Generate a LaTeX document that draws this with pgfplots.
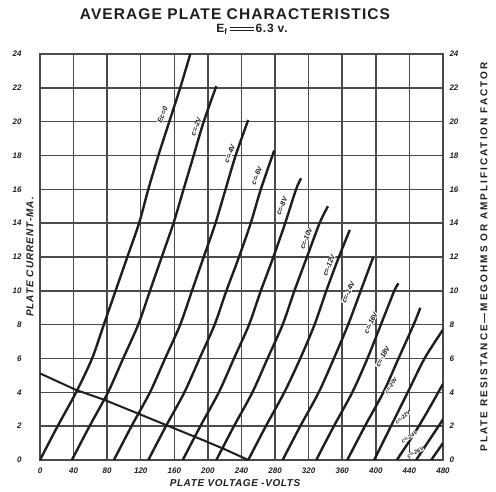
\documentclass[border=0pt]{standalone}
\usepackage{fontspec}
\setmainfont{Liberation Sans}
\usepackage{pgfplots}
\pgfplotsset{compat=1.18}

\definecolor{ink}{HTML}{1E1E1E}
\definecolor{gridc}{HTML}{4A4A4A}

% long double-bar equals sign of the heading
\newcommand\longeq{\raisebox{0.16em}{\rule{24pt}{1.2pt}}\kern-24pt\raisebox{0.44em}{\rule{24pt}{1.2pt}}}

% plate current (mA) against plate voltage (V), one table per grid voltage
\pgfplotstableread{
V I
0 0
21 2
43 4
62 6
76 8
90 10
104 12
118 14
129 16
141 18
154 20
167 22
179 24
}\ecA
\pgfplotstableread{
V I
38 0
59 2
81 4
99 6
117 8
131 10
145 12
159 14
171 16
183 18
195 20
210 22.1
}\ecB
\pgfplotstableread{
V I
88 0
109 2
131 4
149 6
167 8
181 10
195 12
209 14
221 16
233 18
248 20.1
}\ecC
\pgfplotstableread{
V I
129 0
150 2
172 4
190 6
208 8
222 10
237 12
251 14
263 16
279 18.3
}\ecD
\pgfplotstableread{
V I
170 0
191 2
213 4
231 6
249 8
263 10
278 12
292 14
305 16
311 16.65
}\ecE
\pgfplotstableread{
V I
210 0
231 2
253 4
271 6
289 8
303 10
318 12
333 14
343 15
}\ecF
\pgfplotstableread{
V I
248 0
269 2
291 4
310 6
327 8
341 10
356 12
369 13.6
}\ecG
\pgfplotstableread{
V I
289 0
310 2
332 4
350 6
367 8
382 10
397 12
}\ecH
\pgfplotstableread{
V I
329 0
350 2
372 4
390 6
406 8
422 10
427 10.44
}\ecI
\pgfplotstableread{
V I
366 0
387 2
409 4
427 6
445 8
453 9
}\ecJ
\pgfplotstableread{
V I
398 0
418 2
438 4
458 6
480 7.7
}\ecK
\pgfplotstableread{
V I
425 0
445 1.5
463 3
480 4.5
}\ecL
\pgfplotstableread{
V I
448 0
464 1.2
480 2.4
}\ecM
\pgfplotstableread{
V I
466 0
480 1.0
}\ecN
\pgfplotstableread{
V I
0 5.12
43 4.14
77 3.55
155 1.97
194 1.18
222 0.59
248 0
}\load

\begin{document}
\begin{tikzpicture}[x=1pt,y=1pt]
\useasboundingbox (-40,-31) rectangle (456,460);
\begin{axis}[
  at={(0,0)}, anchor=south west,
  scale only axis, width=403pt, height=406pt,
  xmin=0, xmax=480, ymin=0, ymax=24,
  xtick={0,40,...,480}, ytick={0,2,...,24},
  grid=major, major grid style={gridc, line width=1.5pt},
  axis line style={gridc, line width=1.7pt},
  tick style={draw=none},
  ticklabel style={font=\fontsize{8}{9}\selectfont\bfseries\itshape, text=ink},
  /pgf/number format/assume math mode=true,
  xticklabel style={yshift=-4pt},
  yticklabel style={xshift=-15pt},
  xlabel={PLATE VOLTAGE -VOLTS},
  xlabel style={at={(axis description cs:0.484,0)}, anchor=center, yshift=-23pt,
    font=\fontsize{10}{12}\selectfont\bfseries\itshape\addfontfeature{LetterSpace=6}, text=ink},
  ylabel={PLATE CURRENT-MA.},
  ylabel style={at={(axis description cs:-0.025,0.5)}, anchor=center,
    font=\fontsize{10}{12}\selectfont\bfseries\itshape\addfontfeature{LetterSpace=10}, text=ink},
]
\addplot[smooth, ink, line width=2.4pt] table[x=V,y=I] {\ecA};
\addplot[smooth, ink, line width=2.4pt] table[x=V,y=I] {\ecB};
\addplot[smooth, ink, line width=2.4pt] table[x=V,y=I] {\ecC};
\addplot[smooth, ink, line width=2.4pt] table[x=V,y=I] {\ecD};
\addplot[smooth, ink, line width=2.4pt] table[x=V,y=I] {\ecE};
\addplot[smooth, ink, line width=2.4pt] table[x=V,y=I] {\ecF};
\addplot[smooth, ink, line width=2.4pt] table[x=V,y=I] {\ecG};
\addplot[smooth, ink, line width=2.4pt] table[x=V,y=I] {\ecH};
\addplot[smooth, ink, line width=2.4pt] table[x=V,y=I] {\ecI};
\addplot[smooth, ink, line width=2.4pt] table[x=V,y=I] {\ecJ};
\addplot[smooth, ink, line width=2.4pt] table[x=V,y=I] {\ecK};
\addplot[smooth, ink, line width=2.4pt] table[x=V,y=I] {\ecL};
\addplot[smooth, ink, line width=2.4pt] table[x=V,y=I] {\ecM};
\addplot[smooth, ink, line width=2.4pt] table[x=V,y=I] {\ecN};
\addplot[sharp plot, ink, line width=2pt] table[x=V,y=I] {\load};

% curve labels
\begin{scope}[every node/.style={font=\fontsize{7}{8}\selectfont\bfseries\itshape, text=ink, fill=white, inner sep=0.3pt}]
\node[rotate=68] at (axis cs:146,20.4) {Ec=0};
\node[rotate=68] at (axis cs:186,19.7) {c=-2V};
\node[rotate=68] at (axis cs:226,18.1) {c=-4V};
\node[rotate=68] at (axis cs:258,16.8) {c=-6V};
\node[rotate=68] at (axis cs:288,15.0) {c=-8V};
\node[rotate=68] at (axis cs:317,13.1) {c=-10V};
\node[rotate=68] at (axis cs:344,11.5) {c=-12V};
\node[rotate=66] at (axis cs:367,9.9) {c=-14V};
\node[rotate=64] at (axis cs:394,8.1) {c=-16V};
\node[rotate=62] at (axis cs:408,6.1) {c=-18V};
\end{scope}
\begin{scope}[every node/.style={font=\fontsize{5.5}{6}\selectfont\bfseries\itshape, text=ink, fill=white, inner sep=0.2pt}]
\node[rotate=56] at (axis cs:418,4.4) {c=-20V};
\node[rotate=40] at (axis cs:432,2.5) {c=-22V};
\node[rotate=32] at (axis cs:440,1.35) {c=-24V};
\node[rotate=28] at (axis cs:447,0.45) {c=-26V};
\end{scope}
\end{axis}

% titles and right-hand caption
\node[anchor=base, font=\fontsize{15.5}{18}\selectfont\bfseries\addfontfeature{LetterSpace=7}, text=ink]
  at (195,440) {AVERAGE PLATE CHARACTERISTICS};
\node[anchor=base, font=\fontsize{12}{14}\selectfont\bfseries\addfontfeature{LetterSpace=6}, text=ink]
  at (212,427) {E\textsubscript{f}\,\longeq\,6.3 v.};
\node[rotate=90, anchor=center, font=\fontsize{10}{12}\selectfont\bfseries\addfontfeature{LetterSpace=20}, text=ink]
  at (444,203) {PLATE RESISTANCE---MEGOHMS OR AMPLIFICATION FACTOR};

% right-hand scale
\begin{axis}[
  at={(0,0)}, anchor=south west,
  scale only axis, width=403pt, height=406pt,
  xmin=0, xmax=480, ymin=0, ymax=24,
  hide x axis, axis y line*=right, y axis line style={draw=none},
  ytick={0,2,...,24},
  tick style={draw=none},
  ticklabel style={font=\fontsize{8}{9}\selectfont\bfseries\itshape, text=ink},
  /pgf/number format/assume math mode=true,
  yticklabel style={xshift=3pt},
]
\addplot[draw=none] coordinates {(0,0)};
\end{axis}
\end{tikzpicture}
\end{document}
